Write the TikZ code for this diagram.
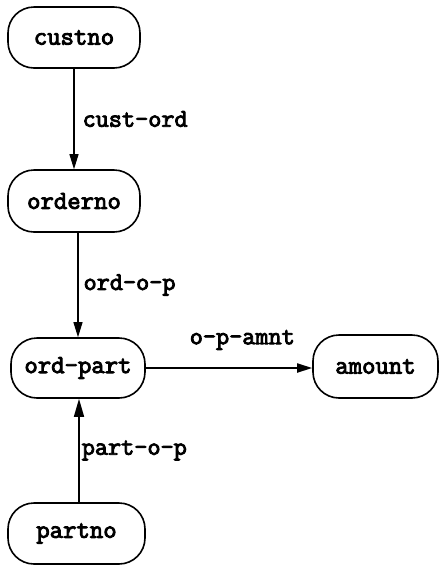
\documentclass[tikz,border=0pt]{standalone}
\usepackage{fontspec}
\newfontfamily\typewriter{Latin Modern Mono}[FakeBold=3.5]
\usetikzlibrary{arrows.meta}
\begin{document}
\begin{tikzpicture}[x=1pt, y=-1pt,
  entity/.style={draw, line width=1.6pt, rectangle, rounded corners=26pt,
    minimum width=132pt, minimum height=61pt, inner sep=0pt,
    font=\fontsize{26}{28}\typewriter},
  conn/.style={line width=1.2pt, -{Triangle[length=15pt,width=9pt]}},
  rel/.style={font=\fontsize{25.5}{28}\typewriter, inner sep=0pt}
]
\useasboundingbox (0,0) rectangle (442,566);

% entity boxes
\node[entity] (custno)  at (74,37.5)  {custno};
\node[entity] (orderno) at (74,201) [minimum height=62pt] {orderno};
\node[entity] (ordpart) at (78,368) [minimum width=134pt, minimum height=60pt] {ord-part};
\node[entity] (amount)  at (375.5,366.5) [minimum width=125pt, minimum height=63pt] {amount};
\node[entity] (partno)  at (76.5,533.5) [minimum width=137pt] {partno};

% relationships
\draw[conn] (custno.south) -- (orderno.north)
  node[rel, midway, anchor=west, xshift=8pt] {cust-ord};
\draw[conn] (orderno.south -| ordpart.north) -- (ordpart.north)
  node[rel, midway, anchor=west, xshift=5pt] {ord-o-p};
\draw[conn, line width=1.8pt] (ordpart.east) -- (ordpart.east -| amount.west)
  node[rel, pos=0.58, yshift=28pt] {o-p-amnt};
\draw[conn, line width=1.6pt, -{Triangle[length=18pt,width=10pt]}]
  ([xshift=2.5pt]partno.north) -- ([xshift=2.5pt]partno.north |- ordpart.south)
  node[rel, midway, anchor=west, xshift=2pt] {part-o-p};
\end{tikzpicture}
\end{document}
